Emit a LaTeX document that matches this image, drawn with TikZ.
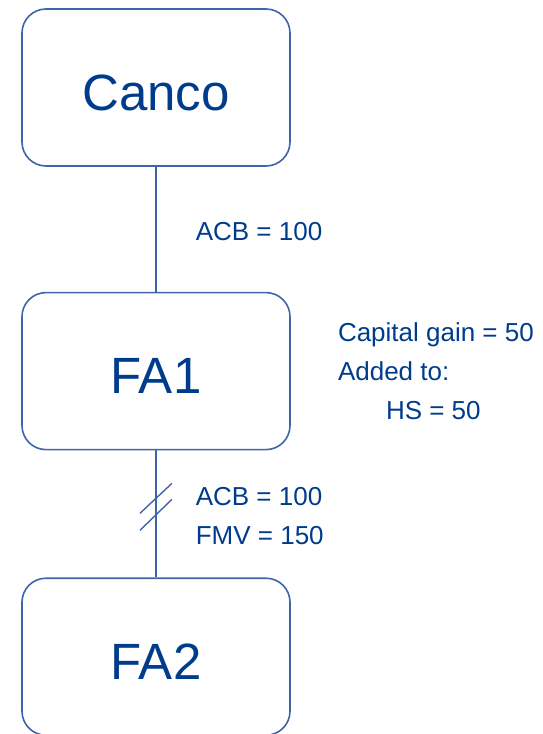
\documentclass[tikz,border=0pt]{standalone}
\usepackage{fontspec}
\setmainfont{Liberation Sans}
\usetikzlibrary{positioning}
\definecolor{txtblue}{HTML}{003C8C}
\definecolor{lineblue}{HTML}{3F65A8}

\begin{document}
\begin{tikzpicture}[x=1pt, y=1pt,
            node distance = 125pt,
            box/.style = {draw=lineblue, line width=1.6pt, rounded corners=24pt,
                fill=white, minimum width=268pt, minimum height=157pt,
                text=txtblue, text height=45pt, text depth=0pt,
                font=\fontsize{51}{60}\selectfont},
            lbl/.style = {text=txtblue, inner sep=0pt, align=left,
                font=\fontsize{26}{39}\selectfont},
            link/.style = {draw=lineblue, line width=1.6pt}]
            \useasboundingbox (0,0) rectangle (542,-734);
            \node[box] (canco) at (156,-87.5) {Canco};
            \node[box, below=of canco] (fa1) {FA1};
            \node[box, below=127pt of fa1] (fa2) {FA2};
            \node[lbl, right=47pt of fa1] (gain) {Capital gain = 50\\Added to:\\\hspace*{48pt}HS = 50};
            \path[link]
                (canco) edge node[lbl, right=39pt, yshift=-2pt] (acb) {ACB = 100} (fa1);
            \draw[link] (fa1) -- node[lbl, right=39pt, yshift=-2pt] (vals) {ACB = 100\\FMV = 150}
                coordinate[pos=0.44] (cut) (fa2);
            % rollover mark
            \draw[link, line width=1.4pt] ([shift={(-16,-7)}]cut) -- ([shift={(16,23)}]cut);
            \draw[link, line width=1.4pt] ([shift={(-16,-24)}]cut) -- ([shift={(16,7)}]cut);
        \end{tikzpicture}
\end{document}
